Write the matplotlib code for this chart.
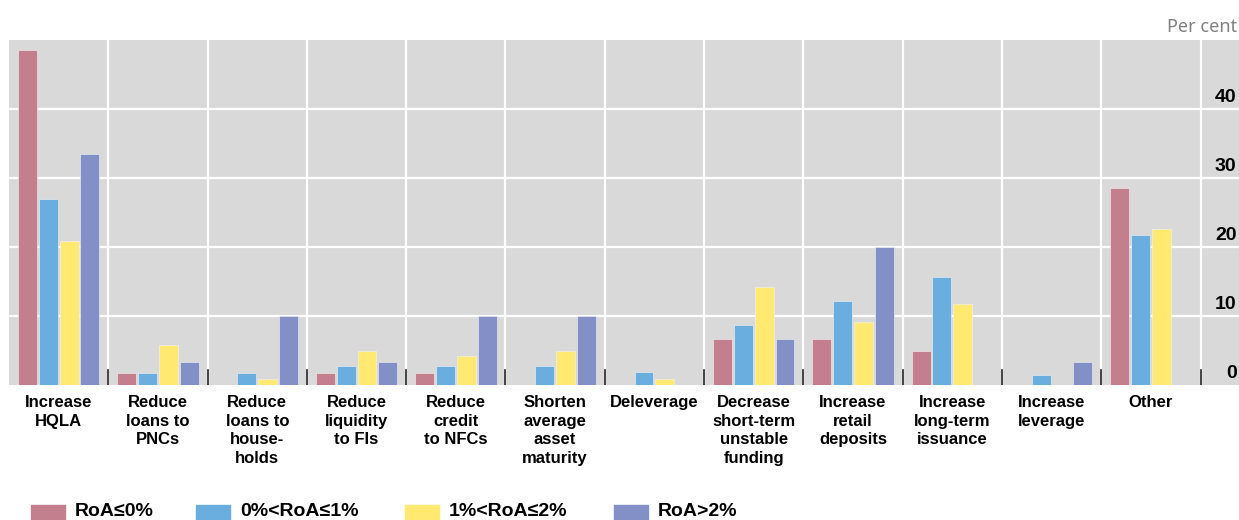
import matplotlib
matplotlib.use("Agg")
import matplotlib.pyplot as plt
from matplotlib.patches import Rectangle
import numpy as np

plt.rcParams['font.family'] = ['Liberation Sans', 'DejaVu Sans']

categories = ["Increase\nHQLA", "Reduce\nloans to\nPNCs", "Reduce\nloans to\nhouse-\nholds",
              "Reduce\nliquidity\nto FIs", "Reduce\ncredit\nto NFCs", "Shorten\naverage\nasset\nmaturity",
              "Deleverage", "Decrease\nshort-term\nunstable\nfunding", "Increase\nretail\ndeposits",
              "Increase\nlong-term\nissuance", "Increase\nleverage", "Other"]
series = ["RoA≤0%", "0%<RoA≤1%", "1%<RoA≤2%", "RoA>2%"]
roa_neg = [48.5, 1.7, 0, 1.7, 1.7, 0, 0, 6.7, 6.7, 5.0, 0, 28.5]
roa_0_1 = [26.9, 1.8, 1.8, 2.8, 2.8, 2.8, 1.9, 8.7, 12.2, 15.6, 1.5, 21.7]
roa_1_2 = [20.9, 5.8, 0.8, 5.0, 4.2, 5.0, 0.8, 14.2, 9.2, 11.7, 0, 22.6]
roa_gt2 = [33.5, 3.3, 10.0, 3.3, 10.0, 10.0, 0, 6.7, 20.0, 0, 3.3, 0]
yticks = [0, 10, 20, 30, 40]
colors = ["#C47F8F", "#6AAEE0", "#FFE970", "#838FC7"]

W, H = 1239, 520
fig = plt.figure(figsize=(W / 100, H / 100), dpi=100)
ax = fig.add_axes([9 / W, (H - 385) / H, 1 - 9 / W, 345 / H])
ax.set_facecolor("#D9D9D9")

x = np.arange(len(categories))
bw = 0.19
step = 0.21
for k, vals in enumerate([roa_neg, roa_0_1, roa_1_2, roa_gt2]):
    ax.bar(x + (k - 1.5) * step, vals, width=bw, color=colors[k],
           edgecolor="#f4f4f4", linewidth=0.4, zorder=3)

n = len(categories)
ax.set_xlim(-0.5, -0.5 + (W - 9) / 99.3)
ax.set_ylim(0, 50)
for b in np.arange(0.5, n, 1.0):
    ax.axvline(b, color="white", lw=1.6, zorder=1)
    ax.plot([b, b], [0, 2.2], color="#222222", lw=1.2, zorder=4)
for v in yticks[1:]:
    ax.axhline(v, color="white", lw=1.6, zorder=1)
for v in yticks:
    ax.text(0.998, v + 0.5, str(v), transform=ax.get_yaxis_transform(),
            ha="right", va="bottom", fontsize=14, fontweight="bold")
ax.set_xticks([])
ax.set_yticks([])
for s in ax.spines.values():
    s.set_visible(False)

for i, lab in enumerate(categories):
    ax.annotate(lab, xy=(i, 0), xycoords=("data", "axes fraction"),
                xytext=(0, -7), textcoords="offset points",
                ha="center", va="top", multialignment="center",
                fontsize=12, fontweight="bold", linespacing=1.32)

fig.text(1237 / W, 1 - 27 / H, "Per cent", ha="right", va="center",
         fontsize=13, color="#808080", family="Noto Sans")

# legend
key_x = [31, 196, 405, 614]
for k, name in enumerate(series):
    fig.patches.append(Rectangle((key_x[k] / W, 0), 34 / W, 15 / H,
                                 transform=fig.transFigure, color=colors[k]))
    fig.text((key_x[k] + 44) / W, 1 - 512 / H, name, ha="left", va="center",
             fontsize=14, fontweight="bold")

fig.savefig("out.png", dpi=100)
